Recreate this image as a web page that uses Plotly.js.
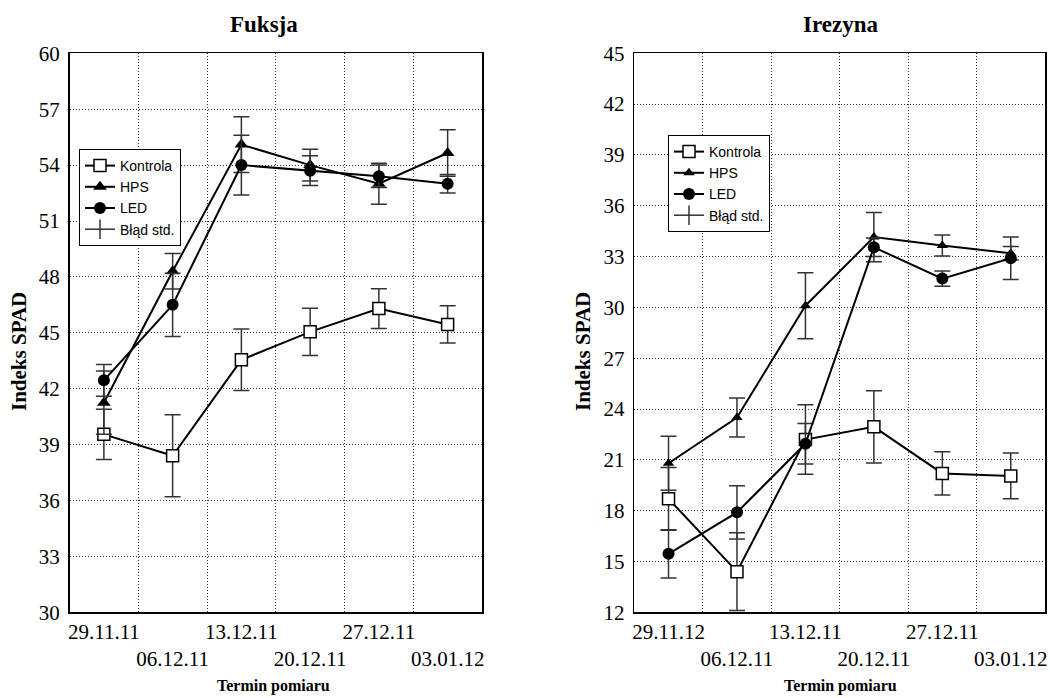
<!DOCTYPE html>
<html>
<head>
<meta charset="utf-8">
<script src="https://cdn.plot.ly/plotly-3.0.1.min.js"></script>
<style>html,body{margin:0;padding:0;background:#fff;}#chart{width:1050px;height:698px;}</style>
</head>
<body>
<div id="chart"></div>
<script>
// Tick labels (measurement dates)
var datesFuksja  = ['29.11.11','06.12.11','13.12.11','20.12.11','27.12.11','03.01.12'];
var datesIrezyna = ['29.11.12','06.12.11','13.12.11','20.12.11','27.12.11','03.01.12'];

// Fuksja – SPAD index means and standard errors
var fuksjaKontrola   = [39.55, 38.4, 43.55, 45.05, 46.3, 45.45];
var fuksjaKontrolaSE = [1.35, 2.2, 1.65, 1.27, 1.07, 1.0];
var fuksjaHPS        = [41.25, 48.3, 55.1, 54.0, 53.0, 54.65];
var fuksjaHPSSE      = [1.7, 0.95, 1.5, 0.85, 1.1, 1.25];
var fuksjaLED        = [42.45, 46.5, 54.0, 53.7, 53.4, 53.0];
var fuksjaLEDSE      = [0.85, 1.7, 1.6, 0.8, 0.6, 0.5];

// Irezyna – SPAD index means and standard errors
var irezynaKontrola   = [18.7, 14.4, 22.2, 22.95, 20.2, 20.05];
var irezynaKontrolaSE = [1.85, 2.3, 2.05, 2.13, 1.28, 1.35];
var irezynaHPS        = [20.8, 23.5, 30.1, 34.15, 33.65, 33.2];
var irezynaHPSSE      = [1.6, 1.15, 1.95, 1.45, 0.62, 0.4];
var irezynaLED        = [15.45, 17.9, 21.95, 33.55, 31.7, 32.9];
var irezynaLEDSE      = [1.42, 1.57, 1.2, 0.55, 0.45, 1.25];

var seriesNames = ['Kontrola', 'HPS', 'LED'];
var errorName = 'Błąd std.';

// positions 1..n for the categories; staggered labels (every second on a lower row)
function pos(labels){ return labels.map(function(_, i){ return i + 1; }); }
function stagger(labels){ return labels.map(function(t, i){ return i % 2 ? '<br>' + t : t; }); }
function bounds(labels){ var b = []; for (var i = 1; i < labels.length; i++) b.push(i + 0.5); return b; }

var ERR = '#333';
function err(se){ return {type:'data', array:se, visible:true, color:ERR, thickness:1.5, width:8}; }

var markerStyles = [
  {symbol:'square', size:12, color:'#fff', line:{color:'#000', width:1.5}},
  {symbol:'triangle-up', size:12, color:'#000', line:{color:'#000', width:0}},
  {symbol:'circle', size:12, color:'#000', line:{color:'#000', width:0}}
];

function makeTraces(labels, vals, ses, xa, ya, leg, triSize){
  var x = pos(labels);
  var out = vals.map(function(v, k){
    var m = JSON.parse(JSON.stringify(markerStyles[k]));
    if (k === 1 && triSize) m.size = triSize;
    return {
      type:'scatter', mode:'lines+markers', name:seriesNames[k],
      x:x, y:v, xaxis:xa, yaxis:ya, legend:leg,
      line:{color:'#000', width:2}, marker:m, error_y:err(ses[k])
    };
  });
  out.push({
    type:'scatter', mode:'lines+markers', name:errorName,
    x:[null], y:[null], xaxis:xa, yaxis:ya, legend:leg,
    line:{color:ERR, width:1.5},
    marker:{symbol:'line-ns', size:14, color:ERR, line:{color:ERR, width:1.5}}
  });
  return out;
}

var traces = []
  .concat(makeTraces(datesFuksja, [fuksjaKontrola, fuksjaHPS, fuksjaLED],
                     [fuksjaKontrolaSE, fuksjaHPSSE, fuksjaLEDSE], 'x', 'y', 'legend'))
  .concat(makeTraces(datesIrezyna, [irezynaKontrola, irezynaHPS, irezynaLED],
                     [irezynaKontrolaSE, irezynaHPSSE, irezynaLEDSE], 'x2', 'y2', 'legend2', 10));

var W = 1050, H = 698;
var yDom = [1 - 612.3/H, 1 - 53.3/H];
var SERIF = '"Liberation Serif", "Times New Roman", serif';
var tickFont = {family:SERIF, size:21, color:'#000'};
var GRID = '#333', GRIDDASH = '1px,2px';

function xAxis(labels, dom){
  return {
    domain:dom, range:[0.5, labels.length + 0.5], fixedrange:true,
    tickmode:'array', tickvals:pos(labels), ticktext:stagger(labels), tickangle:0,
    ticks:'', showgrid:false, zeroline:false,
    showline:true, linecolor:'#000', linewidth:1.5, mirror:true,
    tickfont:tickFont,
    minor:{tickmode:'array', tickvals:bounds(labels), showgrid:true,
           gridcolor:GRID, gridwidth:1, griddash:GRIDDASH, ticks:''}
  };
}
function yAxis(r, anchor){
  return {
    domain:yDom, range:r, dtick:3, tick0:r[0], anchor:anchor,
    showgrid:true, gridcolor:GRID, gridwidth:1, griddash:GRIDDASH,
    zeroline:false, showline:true, linecolor:'#000', linewidth:1.5, mirror:true,
    ticks:'', tickfont:tickFont, ticklabelstandoff:4
  };
}

var legendBase = {
  xanchor:'left', yanchor:'top', bgcolor:'#fff', bordercolor:'#000', borderwidth:1,
  font:{family:'"Liberation Sans", Arial, sans-serif', size:14, color:'#000'},
  tracegroupgap:0, itemwidth:30
};

function ann(text, px, py, size, angle){
  return {text:text, xref:'paper', yref:'paper', x:px/W, y:1 - py/H,
          xanchor:'center', yanchor:'middle', showarrow:false, textangle:angle || 0,
          font:{family:SERIF, size:size, color:'#000', weight:'bold'}};
}

var layout = {
  width:W, height:H, margin:{l:0, r:0, t:0, b:0},
  paper_bgcolor:'#fff', plot_bgcolor:'#fff', showlegend:true,
  xaxis:Object.assign(xAxis(datesFuksja, [69.5/W, 482/W]), {anchor:'y'}),
  yaxis:yAxis([30, 60], 'x'),
  xaxis2:Object.assign(xAxis(datesIrezyna, [634.3/W, 1045/W]), {anchor:'y2'}),
  yaxis2:yAxis([12, 45], 'x2'),
  legend:Object.assign({x:79/W, y:1 - 149/H}, legendBase),
  legend2:Object.assign({x:668/W, y:1 - 135/H}, legendBase),
  annotations:[
    ann('Fuksja', 264, 24, 23),
    ann('Irezyna', 840, 24, 23),
    ann('Indeks SPAD', 19, 352, 21, -90),
    ann('Indeks SPAD', 583, 352, 21, -90),
    ann('Termin pomiaru', 273, 686, 16),
    ann('Termin pomiaru', 840, 686, 16)
  ]
};

Plotly.newPlot('chart', traces, layout, {staticPlot:true, displayModeBar:false});
</script>
</body>
</html>
